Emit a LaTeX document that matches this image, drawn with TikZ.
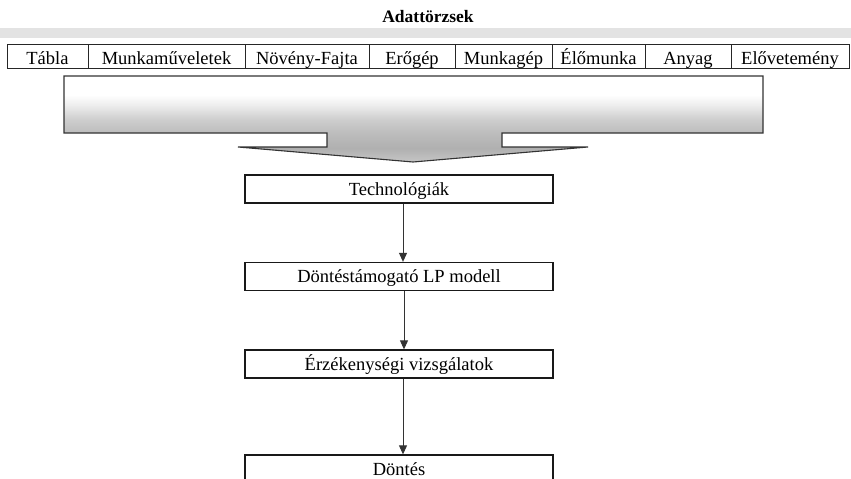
\documentclass[tikz,border=0pt]{standalone}
\usepackage{fontspec}
\setmainfont{Liberation Serif}
\usetikzlibrary{arrows.meta}
\pgfdeclareverticalshading{bigarrowshade}{100bp}{color(0bp)=(gray!45); color(25bp)=(gray!45); color(33bp)=(gray!62); color(42bp)=(gray!52); color(50bp)=(gray!38); color(58bp)=(gray!14); color(64bp)=(white); color(100bp)=(white)}
\tikzset{
  cell/.style={draw=black!85, line width=1pt, inner sep=0pt, minimum height=24pt,
    text height=16pt, text depth=0pt, font=\fontsize{18.5}{20}\selectfont},
  flowbox/.style={draw=black!90, line width=1.3pt, inner sep=0pt, minimum width=308pt,
    minimum height=28pt, text height=12pt, text depth=0pt, font=\fontsize{18.5}{20}\selectfont},
  flowarrow/.style={draw=black!80, line width=0.9pt, -{Triangle[length=9pt,width=8pt]}}
}
\begin{document}
\begin{tikzpicture}[x=1pt,y=-1pt]
\clip (0,0) rectangle (851,479);
\fill[white] (0,0) rectangle (851,479);
% title
\node[font=\fontsize{17.5}{19}\selectfont\bfseries, anchor=base] (title) at (428,23) {Adattörzsek};
% gray band
\fill[gray!22] (0,28) rectangle (851,38);
% table
\node[cell, minimum width=81pt]  (c1) at (47.5,56) {Tábla};
\node[cell, minimum width=157pt] (c2) at (166.5,56) {Munkaműveletek};
\node[cell, minimum width=124pt] (c3) at (307,56) {Növény-Fajta};
\node[cell, minimum width=86pt]  (c4) at (412,56) {Erőgép};
\node[cell, minimum width=97pt]  (c5) at (503.5,56) {Munkagép};
\node[cell, minimum width=93pt]  (c6) at (598.5,56) {Élőmunka};
\node[cell, minimum width=86pt]  (c7) at (688,56) {Anyag};
\node[cell, minimum width=118pt] (c8) at (790,56) {Elővetemény};
% big arrow
\path[shading=bigarrowshade, draw=black!80, line width=1.1pt, line join=miter]
  (64,76) -- (763,76) -- (763,133) -- (502,133) -- (502,147) -- (588,147)
  -- (413,162) -- (238,147) -- (327,147) -- (327,133) -- (64,133) -- cycle;
% flow boxes
\node[flowbox] (tech) at (399,189) {Technológiák};
\node[flowbox] (dss) at (399,276.5) {Döntéstámogató LP modell};
\node[flowbox] (sens) at (399,364) {Érzékenységi vizsgálatok};
\node[flowbox] (dec) at (399,469) {Döntés};
% arrows
\draw[flowarrow] ([xshift=4pt]tech.south) -- ([xshift=4pt]dss.north);
\draw[flowarrow] ([xshift=5pt]dss.south) -- ([xshift=5pt]sens.north);
\draw[flowarrow] ([xshift=4pt]sens.south) -- ([xshift=4pt]dec.north);
\end{tikzpicture}
\end{document}
